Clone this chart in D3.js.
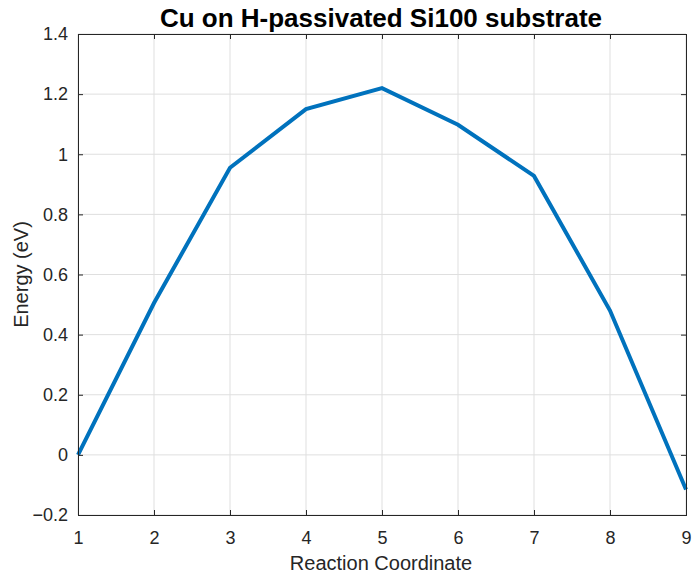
<!DOCTYPE html>
<html>
<head>
<meta charset="utf-8">
<script src="https://cdn.jsdelivr.net/npm/d3@7"></script>
<style>
  body { margin: 0; background: #fff; }
  text { font-family: "Liberation Sans", Arial, Helvetica, sans-serif; fill: #262626; }
</style>
</head>
<body>
<div id="main_plot"></div>
<script>
// chart data
var reactionCoord = [1, 2, 3, 4, 5, 6, 7, 8, 9];
var energy = [0, 0.505, 0.955, 1.15, 1.22, 1.098, 0.928, 0.48, -0.115];
var xTicks = [1, 2, 3, 4, 5, 6, 7, 8, 9];
var yTicks = [-0.2, 0, 0.2, 0.4, 0.6, 0.8, 1, 1.2, 1.4];

var titleText = "Cu on H-passivated Si100 substrate";
var xLabelText = "Reaction Coordinate";
var yLabelText = "Energy (eV)";

// dimensions and margins
var margin = {top: 34, right: 8, bottom: 63, left: 78},
    width = 694 - margin.left - margin.right,
    height = 578 - margin.top - margin.bottom;

var svg = d3.select("div#main_plot")
  .append("svg")
    .attr("width", 694)
    .attr("height", 578)
  .append("g")
    .attr("transform", "translate(" + margin.left + "," + margin.top + ")");

var x = d3.scaleLinear()
  .domain([1, 9])
  .range([0, width]);

var y = d3.scaleLinear()
  .domain([-0.2, 1.4])
  .range([height, 0]);

var tickLen = 5;

// gridlines
svg.append("g")
  .selectAll("line")
  .data(xTicks)
  .enter().append("line")
    .attr("x1", d => x(d)).attr("x2", d => x(d))
    .attr("y1", 0).attr("y2", height)
    .attr("stroke", "#dfdfdf").attr("stroke-width", 1);

svg.append("g")
  .selectAll("line")
  .data(yTicks)
  .enter().append("line")
    .attr("x1", 0).attr("x2", width)
    .attr("y1", d => y(d)).attr("y2", d => y(d))
    .attr("stroke", "#dfdfdf").attr("stroke-width", 1);

// data line
svg.append("path")
  .datum(reactionCoord.map((d, i) => [d, energy[i]]))
  .attr("fill", "none")
  .attr("stroke", "#0072BD")
  .attr("stroke-width", 4)
  .attr("stroke-linejoin", "miter")
  .attr("d", d3.line()
    .x(d => x(d[0]))
    .y(d => y(d[1])));

// axes (ticks inside, mirrored on top and right)
function styleAxis(g) {
  g.select(".domain").remove();
  g.selectAll(".tick line").attr("stroke", "#262626");
  g.selectAll(".tick text")
    .attr("font-size", 18)
    .attr("fill", "#262626")
    .style("font-family", "'Liberation Sans', Arial, sans-serif");
}

svg.append("g")
  .attr("transform", "translate(0," + height + ")")
  .call(d3.axisBottom(x).tickValues(xTicks).tickSize(-tickLen).tickPadding(16)
    .tickFormat(d3.format("d")))
  .call(styleAxis);

svg.append("g")
  .call(d3.axisTop(x).tickValues(xTicks).tickSize(-tickLen).tickFormat(""))
  .call(styleAxis);

svg.append("g")
  .call(d3.axisLeft(y).tickValues(yTicks).tickSize(-tickLen).tickPadding(10)
    .tickFormat(d => d3.format("~g")(d)))
  .call(styleAxis);

svg.append("g")
  .attr("transform", "translate(" + width + ",0)")
  .call(d3.axisRight(y).tickValues(yTicks).tickSize(-tickLen).tickFormat(""))
  .call(styleAxis);

// box
svg.append("rect")
  .attr("x", 0).attr("y", 0)
  .attr("width", width).attr("height", height)
  .attr("fill", "none")
  .attr("stroke", "#262626")
  .attr("stroke-width", 1)
  .attr("shape-rendering", "crispEdges");

// title and labels
svg.append("text")
  .attr("x", width / 2 - 1)
  .attr("y", -7)
  .attr("text-anchor", "middle")
  .attr("font-size", 26)
  .attr("font-weight", "bold")
  .attr("fill", "#000")
  .style("fill", "#000")
  .text(titleText);

svg.append("text")
  .attr("x", width / 2 - 1)
  .attr("y", height + 55)
  .attr("text-anchor", "middle")
  .attr("font-size", 20)
  .text(xLabelText);

svg.append("text")
  .attr("transform", "translate(" + (28 - margin.left) + "," + (height / 2) + ") rotate(-90)")
  .attr("text-anchor", "middle")
  .attr("font-size", 20)
  .text(yLabelText);
</script>
</body>
</html>
